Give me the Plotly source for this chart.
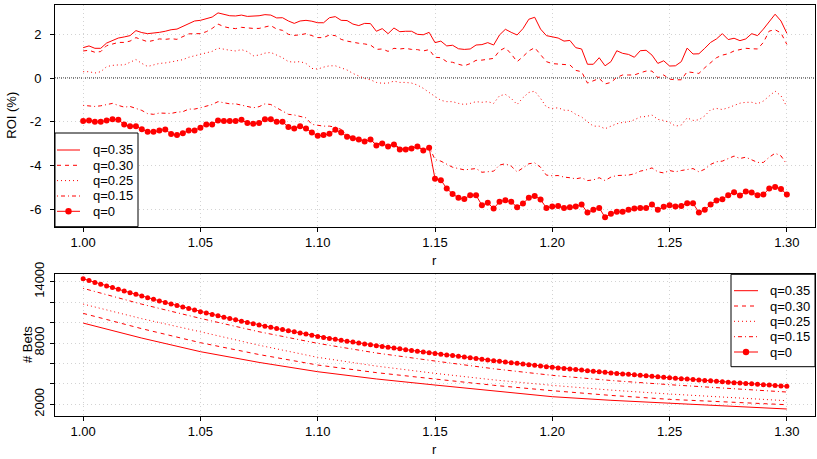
import plotly.graph_objects as go

# ---------------- data ----------------
R_GRID = [round(1.0 + 0.0025 * i, 4) for i in range(121)]

ROI_Q035 = [1.39, 1.47, 1.36, 1.36, 1.60, 1.72, 1.83, 1.88, 1.94, 2.17, 2.08, 2.03, 2.05, 2.09, 2.14, 2.21, 2.24, 2.37, 2.50, 2.61,
            2.64, 2.73, 2.79, 2.98, 2.93, 2.85, 2.84, 2.88, 2.82, 2.82, 2.85, 2.90, 2.88, 2.75, 2.76, 2.61, 2.50, 2.61, 2.64, 2.60,
            2.53, 2.53, 2.76, 2.81, 2.64, 2.63, 2.47, 2.40, 2.50, 2.49, 2.14, 2.26, 2.03, 2.29, 2.12, 2.14, 2.14, 2.00, 1.98, 2.09,
            1.62, 1.69, 1.47, 1.50, 1.34, 1.31, 1.33, 1.51, 1.53, 1.62, 1.51, 1.97, 2.23, 2.09, 1.97, 2.26, 2.69, 2.78, 2.24, 1.94,
            1.88, 1.83, 1.69, 1.72, 1.39, 1.33, 0.63, 0.63, 0.93, 0.56, 0.75, 1.25, 1.13, 1.08, 0.95, 1.25, 1.27, 1.05, 0.67, 0.79,
            0.55, 0.56, 0.75, 1.37, 1.10, 1.11, 1.36, 1.63, 1.79, 2.03, 1.76, 1.82, 1.71, 1.79, 2.03, 1.94, 2.24, 2.58, 2.92, 2.61,
            2.05]
ROI_Q030 = [1.24, 1.27, 1.18, 1.21, 1.48, 1.57, 1.63, 1.63, 1.69, 1.85, 1.74, 1.66, 1.72, 1.79, 1.77, 1.80, 1.77, 1.91, 2.02, 2.03,
            2.03, 2.12, 2.27, 2.47, 2.35, 2.29, 2.26, 2.32, 2.29, 2.27, 2.27, 2.34, 2.40, 2.24, 2.18, 2.00, 1.95, 1.98, 2.03, 1.94,
            1.85, 1.85, 1.97, 1.94, 1.77, 1.69, 1.63, 1.59, 1.56, 1.51, 1.31, 1.33, 1.22, 1.36, 1.33, 1.36, 1.31, 1.30, 1.24, 1.30,
            0.95, 0.93, 0.75, 0.72, 0.63, 0.56, 0.66, 0.81, 0.82, 0.85, 0.90, 1.25, 1.39, 1.10, 0.75, 0.98, 1.24, 1.39, 1.08, 0.75,
            0.66, 0.64, 0.63, 0.60, 0.35, 0.29, -0.23, -0.14, -0.02, -0.27, -0.20, 0.03, 0.14, 0.14, 0.14, 0.24, 0.32, 0.32, 0.02, 0.14,
            -0.05, -0.08, -0.08, 0.29, 0.24, 0.21, 0.47, 0.72, 0.93, 1.05, 1.11, 1.24, 1.31, 1.36, 1.34, 1.33, 1.63, 2.15, 2.21, 2.06,
            1.54]
ROI_Q025 = [0.29, 0.29, 0.23, 0.29, 0.52, 0.58, 0.60, 0.60, 0.72, 0.85, 0.67, 0.53, 0.60, 0.67, 0.69, 0.75, 0.81, 0.84, 0.95, 1.01,
            1.07, 1.16, 1.22, 1.37, 1.31, 1.27, 1.24, 1.30, 1.21, 1.02, 1.05, 1.14, 1.17, 1.05, 0.93, 0.75, 0.73, 0.75, 0.67, 0.44,
            0.41, 0.50, 0.56, 0.56, 0.47, 0.37, 0.21, 0.09, -0.02, -0.08, -0.20, -0.24, -0.23, -0.14, -0.20, -0.20, -0.23, -0.32, -0.47, -0.66,
            -0.85, -1.02, -1.08, -1.08, -1.16, -1.21, -1.16, -1.08, -1.11, -1.08, -1.16, -0.81, -0.75, -0.93, -1.21, -0.90, -0.66, -0.60, -0.93, -1.33,
            -1.39, -1.36, -1.47, -1.48, -1.66, -1.78, -2.00, -2.20, -2.20, -2.32, -2.20, -2.09, -2.03, -2.00, -1.91, -1.78, -1.76, -1.69, -1.89, -1.94,
            -2.03, -2.20, -2.15, -1.82, -1.94, -1.91, -1.73, -1.45, -1.39, -1.44, -1.36, -1.24, -1.15, -1.11, -1.11, -1.18, -1.05, -0.82, -0.60, -0.81,
            -1.31]
ROI_Q015 = [-1.25, -1.27, -1.30, -1.27, -1.21, -1.16, -1.25, -1.33, -1.30, -1.40, -1.48, -1.63, -1.66, -1.60, -1.60, -1.62, -1.56, -1.54, -1.42, -1.42,
            -1.36, -1.30, -1.21, -1.08, -1.13, -1.18, -1.18, -1.24, -1.28, -1.36, -1.31, -1.18, -1.21, -1.36, -1.48, -1.66, -1.69, -1.74, -1.82, -2.12,
            -2.17, -2.20, -2.20, -2.25, -2.35, -2.62, -2.70, -2.76, -2.85, -2.76, -3.03, -2.94, -3.08, -2.99, -3.22, -3.22, -3.17, -3.08, -3.26, -3.14,
            -3.73, -3.80, -3.95, -4.08, -4.14, -4.20, -4.17, -4.14, -4.31, -4.29, -4.26, -3.98, -3.92, -4.03, -4.29, -4.11, -3.92, -3.88, -4.08, -4.44,
            -4.47, -4.46, -4.53, -4.56, -4.61, -4.56, -4.69, -4.66, -4.56, -4.69, -4.53, -4.46, -4.44, -4.44, -4.38, -4.26, -4.20, -4.11, -4.29, -4.34,
            -4.23, -4.29, -4.23, -4.17, -4.14, -4.29, -4.17, -3.95, -3.83, -3.80, -3.68, -3.57, -3.68, -3.62, -3.74, -3.86, -3.86, -3.62, -3.44, -3.56,
            -3.95]
ROI_Q0 = [-1.97, -1.94, -2.00, -2.00, -1.94, -1.88, -1.91, -2.12, -2.21, -2.21, -2.34, -2.46, -2.46, -2.40, -2.35, -2.56, -2.61, -2.52, -2.40, -2.40,
          -2.27, -2.12, -2.12, -1.94, -1.97, -1.97, -1.97, -1.91, -2.06, -2.09, -2.06, -1.88, -1.88, -2.00, -2.00, -2.24, -2.31, -2.21, -2.31, -2.49,
          -2.64, -2.61, -2.55, -2.37, -2.49, -2.69, -2.75, -2.81, -2.90, -2.81, -3.08, -2.99, -3.13, -3.04, -3.27, -3.27, -3.22, -3.13, -3.31, -3.19,
          -4.61, -4.67, -5.05, -5.30, -5.48, -5.53, -5.36, -5.36, -5.82, -5.71, -5.97, -5.66, -5.59, -5.66, -5.91, -5.74, -5.48, -5.39, -5.56, -5.94,
          -5.88, -5.85, -5.94, -5.91, -5.88, -5.79, -6.15, -6.03, -5.94, -6.37, -6.21, -6.12, -6.12, -6.03, -5.97, -5.94, -5.94, -5.79, -6.03, -5.89,
          -5.82, -5.88, -5.85, -5.73, -5.73, -6.15, -6.03, -5.79, -5.60, -5.54, -5.36, -5.22, -5.37, -5.19, -5.24, -5.36, -5.33, -5.05, -4.98, -5.07,
          -5.33]

R_COARSE = [1.000, 1.025, 1.050, 1.075, 1.100, 1.125, 1.150, 1.175, 1.200, 1.225, 1.250, 1.275, 1.300]
BETS_Q035 = [9950, 8480, 7150, 6100, 5190, 4480, 3886, 3280, 2744, 2390, 2092, 1800, 1540]
BETS_Q030 = [10900, 9400, 8030, 6870, 5843, 5100, 4473, 3860, 3331, 2870, 2483, 2200, 1960]
BETS_Q025 = [11810, 10380, 9100, 7780, 6594, 5740, 5028, 4390, 3853, 3390, 3005, 2650, 2350]
BETS_Q015 = [13350, 11800, 10410, 9100, 7964, 7020, 6235, 5480, 4832, 4330, 3919, 3530, 3200]
BETS_Q0 = [14290, 14110, 13930, 13760, 13590, 13420, 13250, 13090, 12930, 12760, 12600,
           12440, 12280, 12120, 11970, 11820, 11670, 11520, 11370, 11220, 11070,
           10930, 10790, 10660, 10530, 10400, 10270, 10140, 10010, 9890, 9760,
           9645, 9530, 9420, 9310, 9200, 9090, 8980, 8870, 8750, 8640,
           8545, 8450, 8360, 8270, 8180, 8090, 8000, 7910, 7820, 7730,
           7650, 7575, 7500, 7425, 7350, 7275, 7200, 7130, 7055, 6980,
           6905, 6835, 6765, 6695, 6625, 6555, 6485, 6415, 6340, 6270,
           6205, 6140, 6075, 6010, 5945, 5880, 5815, 5750, 5685, 5620,
           5565, 5510, 5455, 5400, 5345, 5290, 5235, 5180, 5125, 5070,
           5025, 4975, 4930, 4880, 4835, 4785, 4740, 4690, 4645, 4600,
           4555, 4510, 4470, 4425, 4380, 4340, 4295, 4250, 4205, 4160,
           4120, 4080, 4040, 4000, 3960, 3920, 3880, 3840, 3800, 3760]

X_TICKS = [1.00, 1.05, 1.10, 1.15, 1.20, 1.25, 1.30]
X_TICKTEXT = ["1.00", "1.05", "1.10", "1.15", "1.20", "1.25", "1.30"]
ROI_TICKS = [-6, -4, -2, 0, 2]
ROI_TICKTEXT = ["-6", "-4", "-2", "0", "2"]
BETS_TICKS = [2000, 4000, 6000, 8000, 10000, 12000, 14000]
BETS_TICKTEXT = ["2000", "", "", "8000", "", "", "14000"]

LABELS = ["q=0.35", "q=0.30", "q=0.25", "q=0.15", "q=0"]

for s in (ROI_Q035, ROI_Q030, ROI_Q025, ROI_Q015, ROI_Q0, BETS_Q0):
    assert len(s) == len(R_GRID)

# ---------------- styles ----------------
RED = "#FF0000"
DASHES = ["solid", "4px,4px", "1px,3px", "1px,3px,4px,3px"]
FONT = "Liberation Sans, Arial, Helvetica, sans-serif"
W, H = 817, 459

fig = go.Figure()

roi_lines = [ROI_Q035, ROI_Q030, ROI_Q025, ROI_Q015]
bets_lines = [BETS_Q035, BETS_Q030, BETS_Q025, BETS_Q015]

for lab, vals, dash in zip(LABELS[:4], roi_lines, DASHES):
    fig.add_trace(go.Scatter(x=R_GRID, y=vals, mode="lines", name=lab,
                             line=dict(color=RED, width=1, dash=dash),
                             xaxis="x", yaxis="y", showlegend=False))
fig.add_trace(go.Scatter(x=R_GRID, y=ROI_Q0, mode="lines+markers", name=LABELS[4],
                         line=dict(color=RED, width=1),
                         marker=dict(color=RED, size=6),
                         xaxis="x", yaxis="y", showlegend=False))

for lab, vals, dash in zip(LABELS[:4], bets_lines, DASHES):
    fig.add_trace(go.Scatter(x=R_COARSE, y=vals, mode="lines", name=lab,
                             line=dict(color=RED, width=1, dash=dash),
                             xaxis="x2", yaxis="y2", showlegend=False))
fig.add_trace(go.Scatter(x=R_GRID, y=BETS_Q0, mode="lines+markers", name=LABELS[4],
                         line=dict(color=RED, width=1),
                         marker=dict(color=RED, size=5),
                         xaxis="x2", yaxis="y2", showlegend=False))

XDOM = [55 / W, 815 / W]
TOP_DOM = [1 - 226.7 / H, 1 - 4.7 / H]
BOT_DOM = [1 - 415.7 / H, 1 - 274.3 / H]

common = dict(showline=True, mirror=True, linecolor="#000000", linewidth=1,
              ticks="outside", ticklen=4, tickcolor="#000000", tickwidth=1,
              showgrid=True, gridcolor="#D3D3D3", gridwidth=1, griddash="1px,3px",
              zeroline=False, automargin=False,
              tickfont=dict(family=FONT, size=13, color="#000000"))

fig.update_layout(
    width=W, height=H,
    margin=dict(l=0, r=0, t=0, b=0, pad=0, autoexpand=False),
    paper_bgcolor="white", plot_bgcolor="white",
    font=dict(family=FONT, size=13, color="#000000"),
    showlegend=False,
    xaxis=dict(domain=XDOM, anchor="y", range=[0.988, 1.312],
               tickvals=X_TICKS, ticktext=X_TICKTEXT, ticklabelstandoff=0, **common),
    yaxis=dict(domain=TOP_DOM, anchor="x", range=[-6.80, 3.355],
               tickvals=ROI_TICKS, ticktext=ROI_TICKTEXT, ticklabelstandoff=6, **common),
    xaxis2=dict(domain=XDOM, anchor="y2", range=[0.988, 1.312],
                tickvals=X_TICKS, ticktext=X_TICKTEXT, ticklabelstandoff=0, **common),
    yaxis2=dict(domain=BOT_DOM, anchor="x2", range=[884, 14724],
                tickvals=BETS_TICKS, ticktext=BETS_TICKTEXT, tickangle=-90,
                ticklabelstandoff=1, **common),
)

# horizontal reference line at ROI = 0
fig.add_shape(type="line", xref="x domain", yref="y", x0=0, x1=1, y0=0, y1=0,
              line=dict(color="#000000", width=1, dash="1px,1px"), layer="below")


# ---------------- legends (box, keys, labels) in pixel geometry ----------------
def px(x):
    return x / W


def py(y):
    return 1 - y / H


def draw_legend(box, rows_y, line_x0, line_x1, text_x, marker_r):
    x0, y0, x1, y1 = box
    fig.add_shape(type="rect", xref="paper", yref="paper",
                  x0=px(x0), x1=px(x1), y0=py(y1), y1=py(y0),
                  line=dict(color="#000000", width=1), fillcolor="white", layer="above")
    for i, (lab, ry) in enumerate(zip(LABELS, rows_y)):
        dash = DASHES[i] if i < 4 else "solid"
        fig.add_shape(type="line", xref="paper", yref="paper",
                      x0=px(line_x0), x1=px(line_x1), y0=py(ry), y1=py(ry),
                      line=dict(color=RED, width=1, dash=dash), layer="above")
        if i == 4:
            cx = (line_x0 + line_x1) / 2
            fig.add_shape(type="circle", xref="paper", yref="paper",
                          x0=px(cx - marker_r), x1=px(cx + marker_r),
                          y0=py(ry + marker_r), y1=py(ry - marker_r),
                          line=dict(color=RED, width=0), fillcolor=RED, layer="above")
        fig.add_annotation(text=lab, x=px(text_x), y=py(ry), xref="paper", yref="paper",
                           xanchor="left", yanchor="middle", showarrow=False,
                           font=dict(family=FONT, size=13, color="#000000"))


draw_legend((55, 133, 138, 226.7), [150, 165.3, 180.6, 196, 211.3], 57, 80, 91, 3.2)
draw_legend((731, 274.3, 815, 366.7), [290.7, 306, 321.3, 336.7, 352], 734, 758, 768, 3.2)


# axis titles
def title(text, x, y, angle=0):
    fig.add_annotation(text=text, x=px(x), y=py(y), xref="paper", yref="paper",
                       xanchor="center", yanchor="middle", textangle=angle,
                       showarrow=False, font=dict(family=FONT, size=13, color="#000000"))


title("ROI (%)", 12, 115.7, -90)
title("r", 434, 260)
title("# Bets", 27, 345, -90)
title("r", 434, 449)

# the page's default body margin would offset the 817x459 figure; remove it
fig.write_html("out.html", config={"displayModeBar": False},
               post_script="document.body.style.margin='0';document.body.style.overflow='hidden';")
